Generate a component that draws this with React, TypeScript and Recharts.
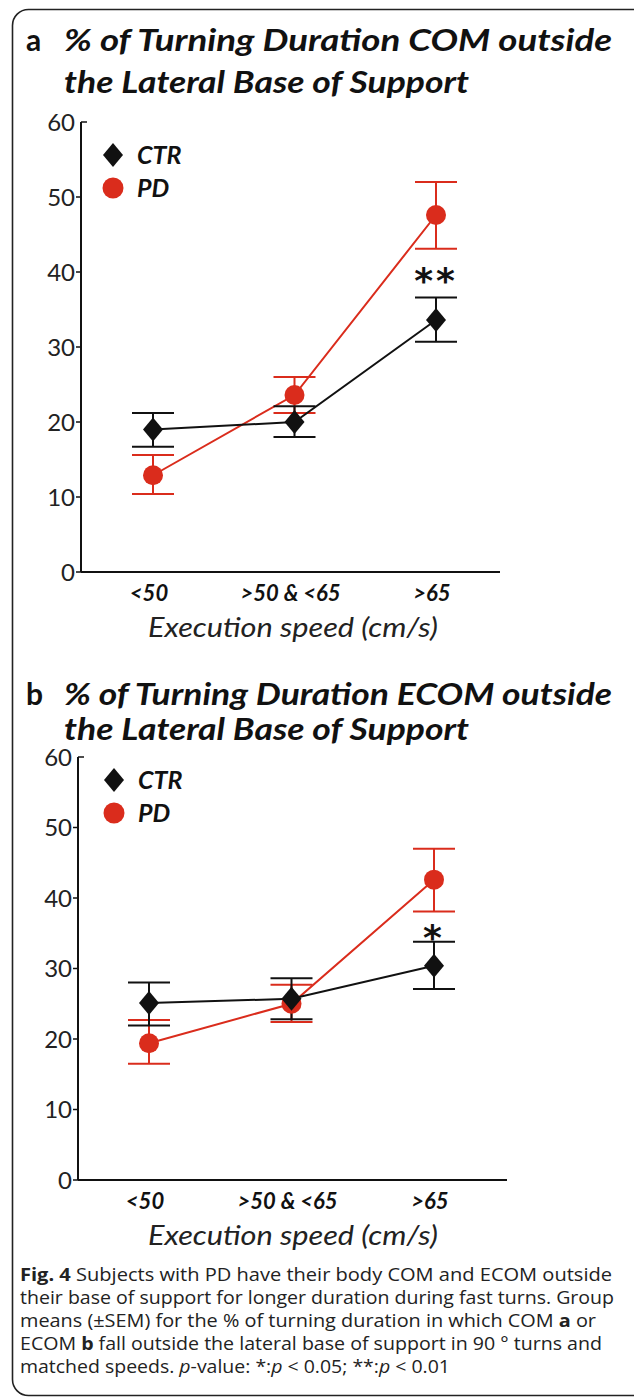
import React from 'react';
import { LineChart, Line, XAxis, YAxis, ErrorBar, Legend, ReferenceDot } from 'recharts';

// ---------- data ----------
const speeds = ['<50', '>50 & <65', '>65'];
const yTicks = [0, 10, 20, 30, 40, 50, 60];

// Panel a: % of turning duration COM outside lateral BoS
const ctrComMean = [19.0, 20.0, 33.6];
const ctrComErr = [[2.3, 2.2], [2.0, 2.1], [2.9, 3.0]];
const pdComMean = [12.9, 23.6, 47.6];
const pdComErr = [[2.5, 2.7], [2.4, 2.4], [4.5, 4.4]];

// Panel b: % of turning duration ECOM outside lateral BoS
const ctrEcomMean = [25.1, 25.7, 30.4];
const ctrEcomErr = [[3.2, 2.9], [2.9, 2.9], [3.3, 3.4]];
const pdEcomMean = [19.4, 25.0, 42.6];
const pdEcomErr = [[2.9, 3.3], [2.6, 2.7], [4.5, 4.4]];

const sigA = { speed: '>65', y: 39.9, text: '**' };
const sigB = { speed: '>65', y: 35.5, text: '*' };

const titleLine2 = 'the Lateral Base of Support';
const titleA = '% of Turning Duration COM outside';
const titleB = '% of Turning Duration ECOM outside';
const xTitle = 'Execution speed (cm/s)';

const RED = '#da2c1c';
const BLACK = '#111111';
const FONT = 'Lato, "Open Sans", sans-serif';
const CAPFONT = '"Open Sans", "Noto Sans", sans-serif';

const build = (cm: number[], ce: number[][], pm: number[], pe: number[][]) =>
  speeds.map((s, i) => ({ speed: s, ctr: cm[i], ctrErr: ce[i], pd: pm[i], pdErr: pe[i] }));

const dataA = build(ctrComMean, ctrComErr, pdComMean, pdComErr);
const dataB = build(ctrEcomMean, ctrEcomErr, pdEcomMean, pdEcomErr);

// ---------- marks ----------
const Diamond = (props: any) => {
  const { cx, cy } = props;
  if (cx == null || cy == null) return null;
  return <polygon key={`d-${cx}`} points={`${cx},${cy - 12} ${cx + 10},${cy} ${cx},${cy + 12} ${cx - 10},${cy}`} fill={BLACK} />;
};
const Dot = (props: any) => {
  const { cx, cy } = props;
  if (cx == null || cy == null) return null;
  return <circle key={`c-${cx}`} cx={cx} cy={cy} r={10} fill={RED} />;
};

const YTick = (props: any) => {
  const { x, y, payload } = props;
  const top = payload.value === 60;
  return (
    <g>
      <line x1={top ? x : x - 5} x2={top ? x + 6 : x} y1={y} y2={y} stroke={BLACK} strokeWidth={1.5} />
      <text x={x - 6} y={y} dy="0.36em" textAnchor="end" fontFamily={FONT} fontSize={24} fill="#222">
        {payload.value}
      </text>
    </g>
  );
};

const XTick = (props: any) => {
  const { x, y, payload } = props;
  return (
    <text x={x - 4} y={y + 29} textAnchor="middle" fontFamily={FONT} fontWeight={700} fontStyle="italic" fontSize={22} fill="#111">
      {payload.value}
    </text>
  );
};

const LegendBox = (props: any) => {
  const payload = props.payload || [];
  const items = ['CTR', 'PD'].map((n) => payload.find((p: any) => p.value === n)).filter(Boolean);
  return (
    <svg width={110} height={70} style={{ overflow: 'visible' }}>
      {items.map((it: any, i: number) => {
        const cy = 17 + i * 33;
        return (
          <g key={it.value}>
            {it.value === 'CTR' ? (
              <polygon points={`13,${cy - 12} 23,${cy} 13,${cy + 12} 3,${cy}`} fill={BLACK} />
            ) : (
              <circle cx={13} cy={cy} r={10.5} fill={RED} />
            )}
            <text x={37} y={cy + 9} fontFamily={FONT} fontWeight={700} fontStyle="italic" fontSize={25} fill="#111">
              {it.value}
            </text>
          </g>
        );
      })}
    </svg>
  );
};

const starLabel = (text: string) => (props: any) => {
  const vb = props.viewBox || {};
  const cx = (vb.x || 0) + (vb.width || 0) / 2;
  const cy = (vb.y || 0) + (vb.height || 0) / 2;
  return (
    <text x={cx} y={cy + 20} textAnchor="middle" fontFamily='"DejaVu Sans", sans-serif' fontWeight={700} fontSize={36} fill="#111" letterSpacing={3}>
      {text}
    </text>
  );
};

type PanelProps = {
  data: any[];
  top: number;
  margin: { top: number; right: number; left: number; bottom: number };
  padding: { left: number; right: number };
  legendPos: { left: number; top: number };
  sig: { speed: string; y: number; text: string };
};

const Panel = ({ data, top, margin, padding, legendPos, sig }: PanelProps) => (
  <div style={{ position: 'absolute', left: 0, top, width: 634, height: 660 }}>
    <LineChart width={634} height={660} data={data} margin={margin}>
      <XAxis
        dataKey="speed"
        height={30}
        padding={padding}
        axisLine={{ stroke: BLACK, strokeWidth: 2 }}
        tickLine={false}
        tickSize={0}
        tickMargin={0}
        tick={<XTick />}
        interval={0}
      />
      <YAxis
        width={60}
        domain={[0, 60]}
        ticks={yTicks}
        allowDataOverflow
        axisLine={{ stroke: BLACK, strokeWidth: 2 }}
        tickLine={false}
        tickSize={0}
        tickMargin={0}
        tick={<YTick />}
        interval={0}
      />
      <Legend
        layout="horizontal"
        verticalAlign="middle"
        align="center"
        content={<LegendBox />}
        wrapperStyle={{ left: legendPos.left, top: legendPos.top, width: 110, height: 70 }}
      />
      <Line
        name="PD"
        dataKey="pd"
        type="linear"
        stroke={RED}
        strokeWidth={2}
        dot={<Dot />}
        activeDot={false}
        isAnimationActive={false}
      >
        <ErrorBar dataKey="pdErr" width={21} stroke={RED} strokeWidth={2} />
      </Line>
      <Line
        name="CTR"
        dataKey="ctr"
        type="linear"
        stroke={BLACK}
        strokeWidth={2}
        dot={<Diamond />}
        activeDot={false}
        isAnimationActive={false}
      >
        <ErrorBar dataKey="ctrErr" width={21} stroke={BLACK} strokeWidth={2} />
      </Line>
      <ReferenceDot x={sig.speed} y={sig.y} r={0} fill="none" stroke="none" label={starLabel(sig.text)} />
    </LineChart>
  </div>
);

const Title = ({ letter, line1, y1, y2 }: { letter: string; line1: string; y1: number; y2: number }) => (
  <g fontFamily={FONT} fill="#111">
    <text x={26} y={y1} fontWeight={700} fontSize={30}>{letter}</text>
    <text x={64} y={y1} fontWeight={700} fontStyle="italic" fontSize={30} textLength={548} lengthAdjust="spacingAndGlyphs">{line1}</text>
    <text x={64} y={y2} fontWeight={700} fontStyle="italic" fontSize={30} textLength={405} lengthAdjust="spacingAndGlyphs">{titleLine2}</text>
  </g>
);

const captionLines = [
  { w: 592, parts: [{ t: 'Fig. 4', b: true }, { t: ' Subjects with PD have their body COM and ECOM outside' }] },
  { w: 594, parts: [{ t: 'their base of support for longer duration during fast turns. Group' }] },
  { w: 576, parts: [{ t: 'means (±SEM) for the % of turning duration in which COM ' }, { t: 'a', b: true }, { t: ' or' }] },
  { w: 582, parts: [{ t: 'ECOM ' }, { t: 'b', b: true }, { t: ' fall outside the lateral base of support in 90 ° turns and' }] },
  { w: 430, parts: [{ t: 'matched speeds. ' }, { t: 'p', i: true }, { t: '-value: *:' }, { t: 'p', i: true }, { t: ' < 0.05; **:' }, { t: 'p', i: true }, { t: ' < 0.01' }] },
];

export default function App() {
  return (
    <div style={{ position: 'absolute', left: 0, top: 0, width: 634, height: 1400, background: '#fff', overflow: 'hidden' }}>
      <svg width={634} height={1400} style={{ position: 'absolute', left: 0, top: 0 }}>
        <rect x={12.5} y={9.5} width={660} height={1386} rx={16} ry={16} fill="none" stroke="#222" strokeWidth={1.6} />
        <Title letter="a" line1={titleA} y1={51} y2={93} />
        <Title letter="b" line1={titleB} y1={705} y2={740} />
        <text x={293} y={637} textAnchor="middle" fontFamily={FONT} fontStyle="italic" fontSize={27} fill="#222" textLength={290} lengthAdjust="spacingAndGlyphs">{xTitle}</text>
        <text x={293} y={1245} textAnchor="middle" fontFamily={FONT} fontStyle="italic" fontSize={27} fill="#222" textLength={290} lengthAdjust="spacingAndGlyphs">{xTitle}</text>
        {captionLines.map((ln, i) => (
          <text key={i} x={20} y={1281 + i * 23} fontFamily={CAPFONT} fontSize={18.5} fill="#222" textLength={ln.w} lengthAdjust="spacingAndGlyphs">
            {ln.parts.map((p: any, j: number) => (
              <tspan key={j} fontWeight={p.b ? 700 : 400} fontStyle={p.i ? 'italic' : 'normal'}>{p.t}</tspan>
            ))}
          </text>
        ))}
      </svg>
      <Panel
        data={dataA}
        top={0}
        margin={{ top: 122, right: 134, left: 21, bottom: 58 }}
        padding={{ left: 72, right: 64 }}
        legendPos={{ left: 100, top: 138 }}
        sig={sigA}
      />
      <Panel
        data={dataB}
        top={640}
        margin={{ top: 117, right: 127, left: 18, bottom: 90 }}
        padding={{ left: 71, right: 73 }}
        legendPos={{ left: 101, top: 123 }}
        sig={sigB}
      />
    </div>
  );
}
